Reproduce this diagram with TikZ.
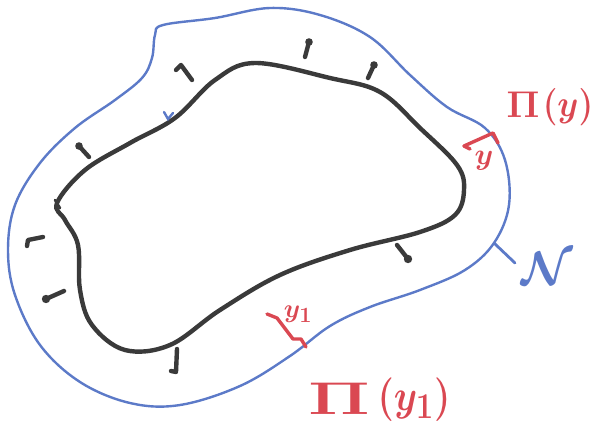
\documentclass[tikz,border=0pt]{standalone}
\usepackage{amsmath}
\usepackage{graphicx}
\definecolor{sblue}{RGB}{92,122,200}
\definecolor{sblack}{RGB}{58,58,58}
\definecolor{sred}{RGB}{218,72,82}
\tikzset{
  outer/.style={draw=sblue, line width=2.4pt},
  inner/.style={draw=sblack, line width=4.4pt},
  vec/.style={draw=sblack, line width=4.4pt, line cap=round, line join=round},
  redmark/.style={draw=sred, line width=3.4pt, line cap=round, line join=round},
  lbl/.style={inner sep=0pt, font=\Huge\boldmath}
}
\begin{document}
\begin{tikzpicture}[x=1pt,y=-1pt]
\useasboundingbox (0,0) rectangle (597,426);
% outer neighbourhood boundary
\draw[outer] plot[smooth cycle, tension=0.6] coordinates {
 (163,25) (215,18) (270,8) (320,15) (370,37) (410,75) (447,107) (485,128)
 (505,160) (509,205) (494,243) (465,270) (420,290) (370,307) (330,326)
 (290,356) (240,386) (180,405) (130,403) (80,382) (40,345) (15,295) (8,250)
 (15,205) (40,163) (75,128) (115,100) (142,78) (152,58) (155,35)};
% inner curve
\draw[inner] plot[smooth cycle, tension=0.6] coordinates {
 (57,203) (85,170) (130,143) (175,118) (215,80) (255,63) (330,78) (380,92)
 (420,128) (457,165) (464,190) (455,215) (420,232) (350,250) (280,275)
 (220,310) (170,345) (125,350) (92,325) (80,290) (78,245) (65,220)};
\draw[vec, line width=2.6pt] (55,200) -- (60,208);
% small blue tick on inner curve
\draw[sblue, line width=2.4pt, line cap=round] (164,112) -- (168,119) -- (173,113);
% normal vectors
\coordinate (a1s) at (89,157); \coordinate (a1e) at (79,146);
\draw[vec] (a1s) -- (a1e); \fill[sblack] (a1e) circle (3.8);
\draw[vec] (192,80) -- (181,65) -- (176,70);
\coordinate (a3s) at (305,57); \coordinate (a3e) at (309,42);
\draw[vec] (a3s) -- (a3e); \fill[sblack] (a3e) circle (3.8);
\coordinate (a4s) at (368,78); \coordinate (a4e) at (374,65);
\draw[vec] (a4s) -- (a4e); \fill[sblack] (a4e) circle (3.8);
\draw[vec] (43,237) -- (28,240) -- (27,246);
\coordinate (a6s) at (64,291); \coordinate (a6e) at (46,299);
\draw[vec] (a6s) -- (a6e); \fill[sblack] (a6e) circle (4.2);
\draw[vec] (177,349) -- (176,372) -- (171,371);
\coordinate (a8s) at (397,245); \coordinate (a8e) at (408,259);
\draw[vec] (a8s) -- (a8e); \fill[sblack] (a8e) circle (4.2);
% projection of y
\draw[redmark] (464,146) -- (493,133) -- (498,143);
\draw[redmark] (464,146) -- (470,149);
\node[lbl, text=sred] (ylab) at (484,161) {\scalebox{1.2}{$y$}};
\node[lbl, text=sred] (piy) at (523,105) {\scalebox{1.5}{$\Pi$}};
\node[lbl, text=sred] (piyarg) at (568,107) {\scalebox{1.35}[1.5]{$(y)$}};
% projection of y1
\draw[redmark] (267,314) -- (277,318) -- (293,339) -- (301,339) -- (306,347);
\node[lbl, text=sred] (y1lab) at (298,314) {\scalebox{1.05}{$y_{1}$}};
\node[lbl, text=sred] (piy1) at (339,399) {\scalebox{2.8}[1.85]{$\Pi$}};
\node[lbl, text=sred] (piy1arg) at (414,400) {\scalebox{1.5}[1.75]{$(y_{1})$}};
% neighbourhood label
\coordinate (ntick) at (494,243);
\node[lbl, text=sblue] (N) at (547,268) {\scalebox{1.9}{$\mathcal{N}$}};
\draw[sblue, line width=2.8pt, line cap=round] (ntick) -- (515,263);
\end{tikzpicture}
\end{document}
